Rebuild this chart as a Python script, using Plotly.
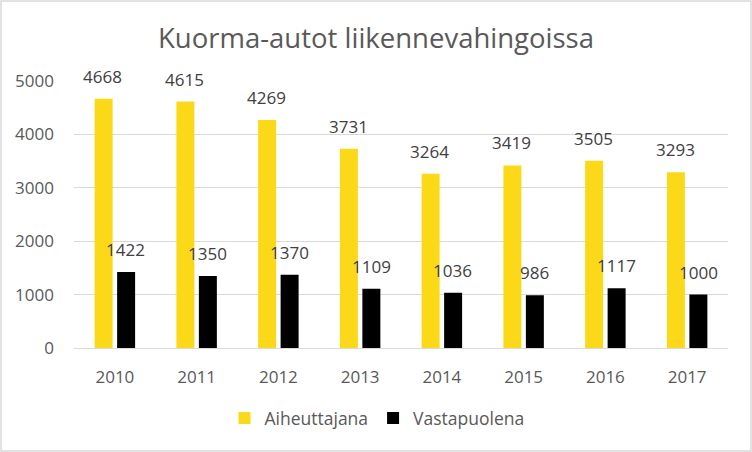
import plotly.graph_objects as go

years = ["2010", "2011", "2012", "2013", "2014", "2015", "2016", "2017"]
aiheuttajana = [4668, 4615, 4269, 3731, 3264, 3419, 3505, 3293]
vastapuolena = [1422, 1350, 1370, 1109, 1036, 986, 1117, 1000]
y_ticks = [0, 1000, 2000, 3000, 4000, 5000]

W, H = 752, 452
ml, mr, mt, mb = 74, 24, 81, 104
pw, ph = W - ml - mr, H - mt - mb
FONT = "Open Sans"

fig = go.Figure()
fig.add_trace(go.Bar(x=years, y=aiheuttajana, name="Aiheuttajana",
                     marker=dict(color="#FCD918", line=dict(width=0))))
fig.add_trace(go.Bar(x=years, y=vastapuolena, name="Vastapuolena",
                     marker=dict(color="#000000", line=dict(width=0))))

# data labels; category axis annotations are placed by category index
for i, yr in enumerate(years):
    for val, xs in ((aiheuttajana[i], -12), (vastapuolena[i], 11)):
        fig.add_annotation(x=i, y=val, xref="x", yref="y", text=str(val),
                           showarrow=False, yanchor="bottom", yshift=9, xshift=xs,
                           font=dict(family=FONT, size=17, color="#404040"))

fig.add_shape(type="rect", xref="paper", yref="paper",
              x0=-(ml - 1) / pw, x1=1 + (mr - 1) / pw,
              y0=-(mb - 1) / ph, y1=1 + (mt - 1) / ph,
              line=dict(color="#D9D9D9", width=1.5), layer="below")

fig.update_layout(
    width=W, height=H,
    margin=dict(l=ml, r=mr, t=mt, b=mb),
    paper_bgcolor="white", plot_bgcolor="white",
    barmode="group", bargap=0.45, bargroupgap=0.2,
    title=dict(text="Kuorma-autot liikennevahingoissa", x=0.5, xref="container",
               xanchor="center", y=1 - 38 / H, yref="container", yanchor="middle",
               font=dict(family=FONT, size=27.5, color="#595959")),
    font=dict(family=FONT, color="#595959"),
    xaxis=dict(type="category", range=[-0.5, len(years) - 0.5], showgrid=False,
               showline=True, linecolor="#D9D9D9", linewidth=1, ticks="",
               ticklabelstandoff=14, tickfont=dict(family=FONT, size=17, color="#595959")),
    yaxis=dict(range=[0, 5000], tickvals=y_ticks, showgrid=True,
               gridcolor="#D9D9D9", gridwidth=1, zeroline=False,
               ticks="", ticklen=0, ticklabelstandoff=19,
               tickfont=dict(family=FONT, size=17, color="#595959")),
    legend=dict(orientation="h", x=(377 - ml) / pw, xanchor="center",
                y=-(418 - 348) / ph, yanchor="middle",
                font=dict(family=FONT, size=17.5, color="#595959"),
                itemwidth=30, traceorder="normal"),
    showlegend=True,
)

fig.write_html("out.html", config={"displayModeBar": False},
               post_script="document.body.style.margin='0';")
